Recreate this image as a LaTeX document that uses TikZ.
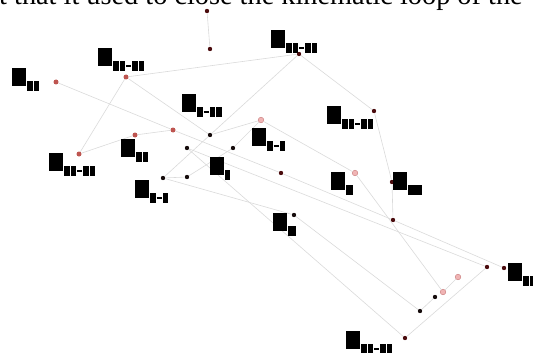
\documentclass[tikz,border=0pt]{standalone}
\usepackage{fontspec}
\setmainfont{Liberation Serif}
\usepackage{tikz}
\definecolor{jdark}{RGB}{75,12,14}
\definecolor{jblack}{RGB}{22,12,12}
\definecolor{jred}{RGB}{190,85,80}
\definecolor{jpink}{RGB}{240,180,180}
\definecolor{jpinkedge}{RGB}{200,120,120}
\definecolor{linkgray}{RGB}{218,218,218}
\newcommand{\bigsq}{\rule{14pt}{18pt}\kern1pt}
\newcommand{\subsq}[1][5.5pt]{\rule[-5pt]{#1}{10.5pt}\kern1pt}
\newcommand{\subhy}{\rule[-0.5pt]{5pt}{2pt}\kern1pt}

\begin{document}
\begin{tikzpicture}[x=1pt, y=-1pt,
  link/.style={draw=linkgray, line width=0.6pt},
  joint/.style={circle, inner sep=0pt, minimum size=4.4pt},
  darkjoint/.style={joint, fill=jdark},
  blackjoint/.style={joint, fill=jblack},
  redjoint/.style={joint, fill=jred, minimum size=5pt},
  pinkjoint/.style={joint, fill=jpink, draw=jpinkedge, line width=0.4pt, minimum size=5.6pt},
  lbl/.style={inner sep=0pt, anchor=north west}]
\useasboundingbox (0,0) rectangle (533,353);
\clip (0,0) rectangle (533,353);
\node[anchor=base west, inner sep=0pt, font=\fontsize{28.3}{30}\selectfont] (cap) at (-1,4.5) {t that it used to close the kinematic loop of the};

\node[darkjoint] (J1) at (207,11) {};
\node[darkjoint] (J2) at (210,49) {};
\node[darkjoint] (J3) at (299,54) {};
\node[darkjoint] (J4) at (374,111) {};
\node[darkjoint] (J5) at (281,173) {};
\node[darkjoint] (J6) at (392,182) {};
\node[darkjoint] (J7) at (393,220) {};
\node[darkjoint] (J8) at (487,267) {};
\node[darkjoint] (J9) at (504,268) {};
\node[darkjoint] (J10) at (405,338) {};
\node[blackjoint] (J11) at (210,135) {};
\node[blackjoint] (J12) at (187,148) {};
\node[blackjoint] (J13) at (233,148) {};
\node[blackjoint] (J14) at (163,178) {};
\node[blackjoint] (J15) at (187,177) {};
\node[blackjoint] (J16) at (294,215) {};
\node[blackjoint] (J17) at (435,297) {};
\node[blackjoint] (J18) at (420,311) {};
\node[redjoint] (J19) at (56,82) {};
\node[redjoint] (J20) at (126,77) {};
\node[redjoint] (J21) at (173,130) {};
\node[redjoint] (J22) at (135,135) {};
\node[redjoint] (J23) at (79,154) {};
\node[pinkjoint] (J24) at (261,120) {};
\node[pinkjoint] (J25) at (355,173) {};
\node[pinkjoint] (J26) at (443,292) {};
\node[pinkjoint] (J27) at (458,277) {};

\draw[link] (J1) -- (J2);
\draw[link] (J20) -- (J3) -- (J4) -- (J6) -- (J7) -- (J9);
\draw[link] (J3) -- (J11);
\draw[link] (J20) -- (J11);
\draw[link] (J20) -- (J23) -- (J22) -- (J21);
\draw[link] (J19) -- (J21) -- (J5) -- (J7);
\draw[link] (J11) -- (J24) -- (J25) -- (J26);
\draw[link] (J11) -- (J14) -- (J15) -- (J13) -- (J24);
\draw[link] (J14) -- (J16) -- (J18) -- (J17);
\draw[link] (J12) -- (J8) -- (J10) -- (J12);
\draw[link] (J26) -- (J27);

\node[lbl] (L20) at (98,48) {\bigsq\subsq\subsq\subhy\subsq\subsq};
\node[lbl] (L19) at (12,68) {\bigsq\subsq\subsq};
\node[lbl] (L11) at (182,94) {\bigsq\subsq\subhy\subsq\subsq};
\node[lbl] (L23) at (49,153) {\bigsq\subsq\subsq\subhy\subsq\subsq};
\node[lbl] (L22) at (121,139) {\bigsq\subsq\subsq};
\node[lbl] (L13) at (210,157) {\bigsq\subsq[5pt]};
\node[lbl] (L14) at (135,180) {\bigsq\subsq\subhy\subsq};
\node[lbl] (L3) at (271,30) {\bigsq\subsq\subsq\subhy\subsq\subsq};
\node[lbl] (L4) at (327,106) {\bigsq\subsq\subsq\subhy\subsq\subsq};
\node[lbl] (L24) at (252,128) {\bigsq\subsq\subhy\subsq};
\node[lbl] (L25) at (331,172) {\bigsq\subsq[7pt]};
\node[lbl] (L6) at (393,172) {\bigsq\subsq[14pt]};
\node[lbl] (L16) at (273,213) {\bigsq\subsq[8pt]};
\node[lbl] (L9) at (508,263) {\bigsq\subsq\subsq};
\node[lbl] (L10) at (346,331) {\bigsq\subsq\subsq\subhy\subsq\subsq};
\end{tikzpicture}
\end{document}
